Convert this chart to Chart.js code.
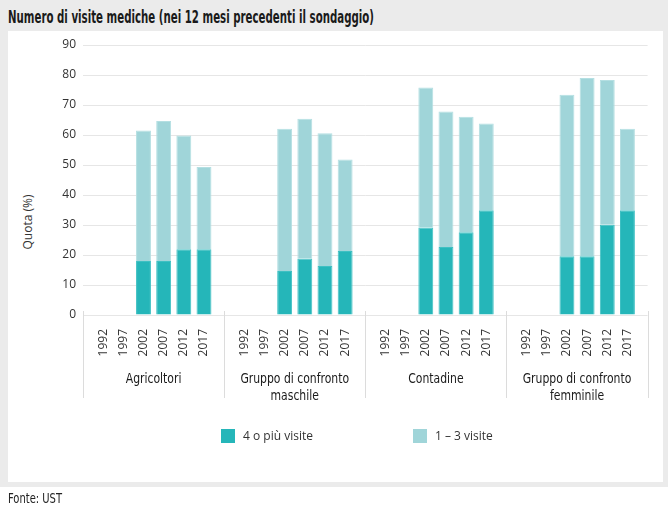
<!DOCTYPE html>
<html><head><meta charset="utf-8">
<script src="https://cdn.jsdelivr.net/npm/chart.js@4"></script>
<style>
html,body{margin:0;padding:0;width:668px;height:508px;background:#fff;overflow:hidden;position:relative}
#frame{position:absolute;left:0;top:0;width:668px;height:487px;background:#ebebeb}
#panel{position:absolute;left:8px;top:31px;width:655px;height:451px;background:#fff}
#title{position:absolute;left:8px;top:6px;font:600 18px/22px 'Liberation Sans Narrow','DejaVu Sans Condensed','DejaVu Sans',sans-serif;color:#1a1a1a;white-space:nowrap;transform-origin:0 50%}
#ytitle{position:absolute;left:27px;top:222px;transform:translate(-50%,-50%) rotate(-90deg);font:12px 'Open Sans',sans-serif;color:#333;white-space:nowrap}
#footer{position:absolute;left:8px;top:490px;font:14px/17px 'Liberation Sans Narrow','DejaVu Sans Condensed','DejaVu Sans',sans-serif;color:#222;white-space:nowrap;transform-origin:0 50%}
#c{position:absolute;left:0;top:0}
#legend{position:absolute;top:429px;left:0;width:668px;height:14px}
.li{position:absolute;top:0;height:14px;font:12px 'Open Sans',sans-serif;color:#333;line-height:14px;white-space:nowrap}
.sw{display:inline-block;width:14px;height:14px;vertical-align:top;margin-right:8px}
</style></head>
<body>
<div id="frame"></div>
<div id="panel"></div>
<div id="title">Numero di visite mediche (nei 12 mesi precedenti il sondaggio)</div>
<div id="ytitle">Quota (%)</div>
<canvas id="c" width="668" height="508"></canvas>
<div id="legend"></div>
<div id="footer">Fonte: UST</div>
<script>
const years = ['1992','1997','2002','2007','2012','2017'];
const groups = [['Agricoltori'], ['Gruppo di confronto','maschile'], ['Contadine'], ['Gruppo di confronto','femminile']];
const seriesNames = ['4 o più visite', '1 – 3 visite'];
// values per group, per year (null = no data)
const fourPlus = [
  [null, null, 18.0, 18.0, 21.9, 21.9],
  [null, null, 14.7, 18.8, 16.3, 21.3],
  [null, null, 29.2, 22.7, 27.6, 34.9],
  [null, null, 19.6, 19.6, 30.1, 34.9]
];
const oneToThree = [
  [null, null, 43.5, 46.7, 37.9, 27.4],
  [null, null, 47.4, 46.6, 44.3, 30.5],
  [null, null, 46.6, 45.1, 38.5, 28.9],
  [null, null, 53.8, 59.4, 48.2, 27.2]
];
const yTicks = [0,10,20,30,40,50,60,70,80,90];
const colors = ['#25b6b9', '#a0d5d9'];
const borderColors = ['#3ec0c3', '#b4dfe2'];

// condense header/footer text to the reference widths
function condense(id, target) {
  const el = document.getElementById(id);
  const w = el.getBoundingClientRect().width;
  if (w > target) el.style.transform = 'scaleX(' + (target / w) + ')';
}
condense('title', 366);
condense('footer', 54);

// build category axis with spacer slots between/around groups
const labels = [''];
const spacerIdx = [0];
const groupRanges = [];
const d1 = [null], d2 = [null];
groups.forEach((g, gi) => {
  const start = labels.length;
  years.forEach((y, yi) => {
    labels.push(y);
    d1.push(fourPlus[gi][yi]);
    d2.push(oneToThree[gi][yi]);
  });
  groupRanges.push([start, labels.length - 1]);
  spacerIdx.push(labels.length);
  labels.push('');
  d1.push(null); d2.push(null);
});

const groupPlugin = {
  id: 'groupPlugin',
  afterDraw(chart) {
    const ctx = chart.ctx, xs = chart.scales.x, ca = chart.chartArea;
    ctx.save();
    ctx.strokeStyle = '#dcdcdc';
    ctx.lineWidth = 1;
    spacerIdx.forEach(k => {
      const px = Math.round(xs.getPixelForValue(k)) + 0.5;
      ctx.beginPath();
      ctx.moveTo(px, ca.bottom - 4);
      ctx.lineTo(px, ca.bottom + 83);
      ctx.stroke();
    });
    ctx.fillStyle = '#1a1a1a';
    ctx.font = "14px 'Liberation Sans Narrow','DejaVu Sans Condensed','DejaVu Sans',sans-serif";
    ctx.textAlign = 'center';
    ctx.textBaseline = 'middle';
    const sx = 0.86;
    groups.forEach((g, gi) => {
      const [a, b] = groupRanges[gi];
      const cx = (xs.getPixelForValue(a) + xs.getPixelForValue(b)) / 2;
      g.forEach((line, li) => {
        ctx.save();
        ctx.translate(cx, ca.bottom + 64 + li * 17);
        ctx.scale(sx, 1);
        ctx.fillText(line, 0, 0);
        ctx.restore();
      });
    });
    ctx.restore();
  }
};

const chart = new Chart(document.getElementById('c'), {
  type: 'bar',
  data: {
    labels: labels,
    datasets: [
      { label: seriesNames[0], data: d1, backgroundColor: colors[0], borderColor: borderColors[0], borderWidth: 1, categoryPercentage: 1, barPercentage: 0.74 },
      { label: seriesNames[1], data: d2, backgroundColor: colors[1], borderColor: borderColors[1], borderWidth: 1, categoryPercentage: 1, barPercentage: 0.74 }
    ]
  },
  options: {
    responsive: false,
    animation: false,
    devicePixelRatio: 1,
    layout: { padding: { left: 8, right: 17, top: 45, bottom: 93 } },
    plugins: { legend: { display: false }, tooltip: { enabled: false } },
    scales: {
      x: {
        stacked: true,
        offset: false,
        grid: { display: false },
        border: { display: false },
        ticks: { autoSkip: false, minRotation: 90, maxRotation: 90, padding: 6, color: '#333', font: { family: "'Open Sans'", size: 12 } },
        afterFit: s => { s.height = 100; }
      },
      y: {
        stacked: true,
        min: 0, max: 90,
        afterBuildTicks: s => { s.ticks = yTicks.map(v => ({ value: v })); },
        grid: { color: '#e6e6e6', lineWidth: 1, drawTicks: false },
        border: { display: false },
        ticks: { padding: 7, color: '#333', font: { family: "'Open Sans'", size: 12 } },
        afterFit: s => { s.width = 75; }
      }
    }
  },
  plugins: [groupPlugin]
});

// legend built from datasets
const leg = document.getElementById('legend');
const legX = [221, 413];
chart.data.datasets.forEach((ds, i) => {
  const el = document.createElement('div');
  el.className = 'li';
  el.style.left = legX[i] + 'px';
  el.innerHTML = '<span class="sw" style="background:' + ds.backgroundColor + '"></span>' + ds.label;
  leg.appendChild(el);
});
</script>
</body></html>
